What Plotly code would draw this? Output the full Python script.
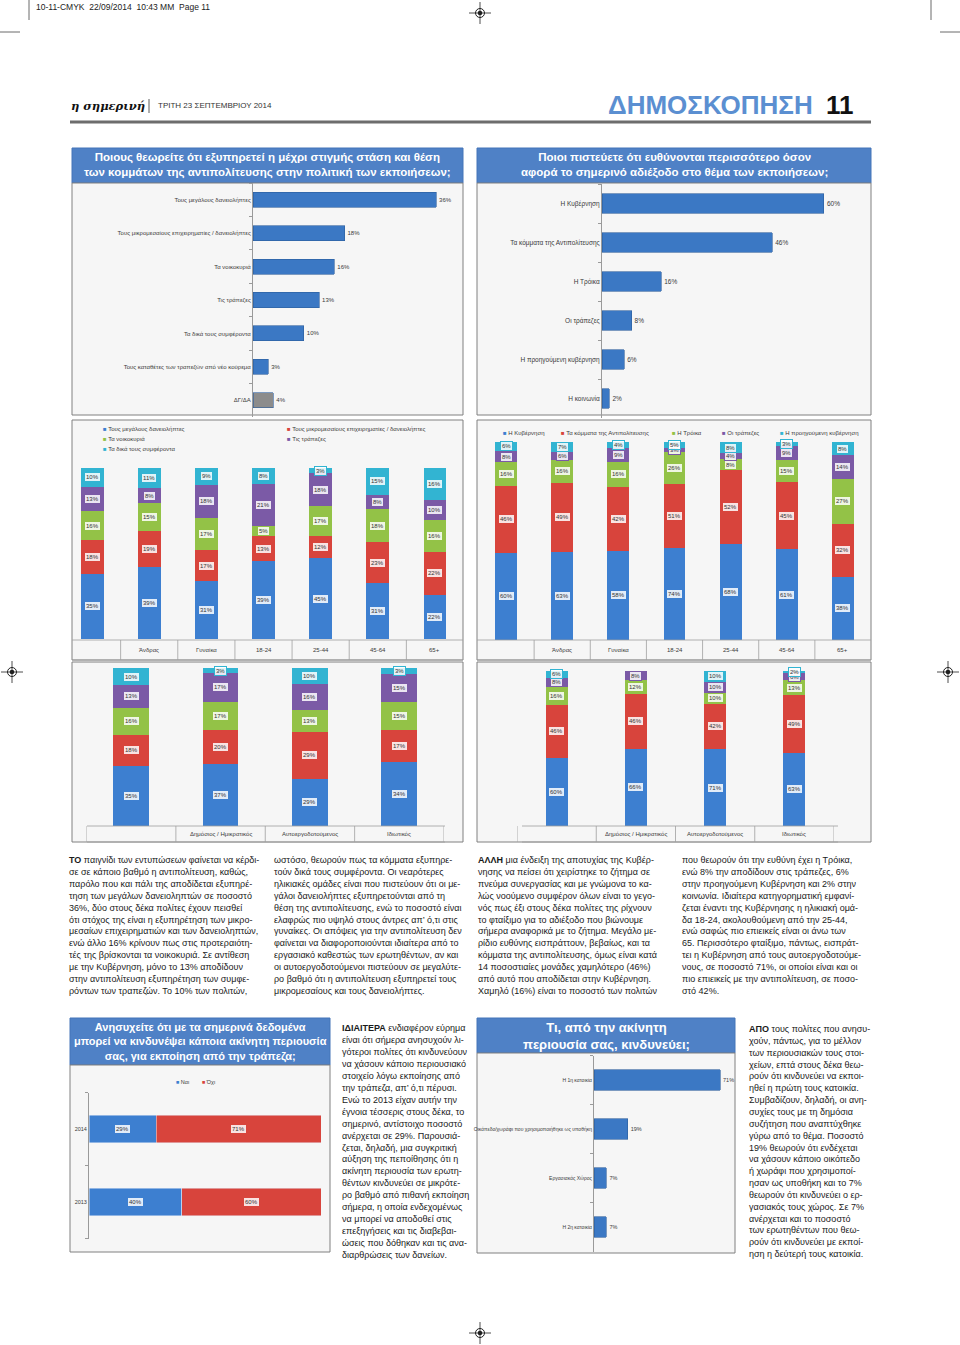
import plotly.graph_objects as go

W, H = 960, 1345
FONT = "Liberation Sans, Arial, sans-serif"

# ---------------- DATA ----------------
q1_categories = ["Τους μεγάλους δανειολήπτες",
                 "Τους μικρομεσαίους επιχειρηματίες / δανειολήπτες",
                 "Τα νοικοκυριά", "Τις τράπεζες", "Τα δικά τους συμφέροντα",
                 "Τους καταθέτες των τραπεζών από νέο κούρεμα", "ΔΓ/ΔΑ"]
q1_values = [36, 18, 16, 13, 10, 3, 4]

q2_categories = ["Η Κυβέρνηση", "Τα κόμματα της Αντιπολίτευσης", "Η Τρόικα",
                 "Οι τράπεζες", "Η προηγούμενη κυβέρνηση", "Η κοινωνία"]
q2_values = [60, 46, 16, 8, 6, 2]

demo_groups = ["Σύνολο", "Άνδρας", "Γυναίκα", "18-24", "25-44", "45-64", "65+"]
demo_labels = ["", "Άνδρας", "Γυναίκα", "18-24", "25-44", "45-64", "65+"]
work_groups = ["Σύνολο", "Δημόσιος / Ημικρατικός", "Αυτοεργοδοτούμενος", "Ιδιωτικός"]
work_labels = ["", "Δημόσιος / Ημικρατικός", "Αυτοεργοδοτούμενος", "Ιδιωτικός"]

q1_series = ["Τους μεγάλους δανειολήπτες", "Τους μικρομεσαίους επιχειρηματίες / δανειολήπτες",
             "Τα νοικοκυριά", "Τις τράπεζες", "Τα δικά τους συμφέροντα"]
q1_demo_big = [35, 39, 31, 39, 45, 31, 22]
q1_demo_small = [18, 19, 17, 13, 12, 23, 22]
q1_demo_house = [16, 15, 17, 5, 17, 18, 16]
q1_demo_banks = [13, 8, 18, 21, 18, 8, 10]
q1_demo_own = [10, 11, 9, 8, 3, 15, 16]

q1_work_big = [35, 37, 29, 34]
q1_work_small = [18, 20, 29, 17]
q1_work_house = [16, 17, 13, 15]
q1_work_banks = [13, 17, 16, 15]
q1_work_own = [10, 3, 10, 3]

q2_series = ["Η Κυβέρνηση", "Τα κόμματα της Αντιπολίτευσης", "Η Τρόικα",
             "Οι τράπεζες", "Η προηγούμενη κυβέρνηση"]
q2_demo_gov = [60, 63, 58, 74, 68, 61, 38]
q2_demo_opp = [46, 49, 42, 51, 52, 45, 32]
q2_demo_troika = [16, 16, 16, 26, 8, 15, 27]
q2_demo_banks = [8, 6, 9, 3, 4, 9, 14]
q2_demo_prev = [6, 7, 4, 5, 8, 3, 8]

q2_work_gov = [60, 66, 71, 63]
q2_work_opp = [46, 46, 42, 49]
q2_work_troika = [16, 12, 10, 13]
q2_work_banks = [8, 8, 10, 6]
q2_work_prev = [6, 0, 10, 2]

q3_years = [2014, 2013]
q3_series = ["Ναι", "Όχι"]
q3_yes = [29, 40]
q3_no = [71, 60]

q4_categories = ["Η 1η κατοικία", "Οικόπεδο/χωράφι που χρησιμοποιήθηκε ως υποθήκη",
                 "Εργασιακός Χώρος", "Η 2η κατοικία"]
q4_values = [71, 19, 7, 7]

# ---------------- STYLE ----------------
C_BLUE, C_RED, C_GREEN, C_PURPLE, C_TEAL = "#3d7fd0", "#d8443c", "#93c247", "#7b5aa6", "#32b4d2"
SERIES_COLORS = [C_BLUE, C_RED, C_GREEN, C_PURPLE, C_TEAL]
BAR_BLUE, BAR_EDGE, BAR_GRAY = "#3b78c4", "#2b5d9c", "#8c8c8c"
TITLE_BG = "#4f81c6"
PANEL_BG = "#f6f6f6"


def X(p):
    return p / W


def Y(p):
    return 1 - p / H


fig = go.Figure()
shapes, ann, lay = [], [], {}


def rect(x0, y0, x1, y1, fill, line=None, lw=1, layer="below"):
    shapes.append(dict(type="rect", xref="paper", yref="paper", x0=X(x0), x1=X(x1),
                       y0=Y(y1), y1=Y(y0), fillcolor=fill, layer=layer,
                       line=dict(color=line or fill, width=lw if line else 0)))


def seg(x0, y0, x1, y1, color, w=1):
    shapes.append(dict(type="line", xref="paper", yref="paper", x0=X(x0), x1=X(x1),
                       y0=Y(y0), y1=Y(y1), line=dict(color=color, width=w)))


def text(x, y, s, size, color="#222", xanchor="left", yanchor="middle", align="left", family=FONT):
    ann.append(dict(xref="paper", yref="paper", x=X(x), y=Y(y), text=s, showarrow=False,
                    xanchor=xanchor, yanchor=yanchor, align=align,
                    font=dict(size=size, color=color, family=family)))


def axes(n, x0, x1, y0, y1, xkw, ykw):
    s = "" if n == 1 else str(n)
    lay["xaxis" + s] = dict(domain=[X(x0), X(x1)], anchor="y" + s, fixedrange=True, **xkw)
    lay["yaxis" + s] = dict(domain=[Y(y1), Y(y0)], anchor="x" + s, fixedrange=True, **ykw)
    return "x" + s, "y" + s


def ycat(cats, fs):
    return dict(type="category", categoryorder="array", categoryarray=cats, autorange="reversed",
                showline=True, linecolor="#9a9a9a", linewidth=1, ticks="outside", ticklen=3,
                tickcolor="#9a9a9a", tickson="boundaries", tickfont=dict(size=fs, color="#3a3a3a"),
                showgrid=False, zeroline=False)


def regmark(cx, cy):
    shapes.append(dict(type="circle", xref="paper", yref="paper", x0=X(cx - 4.5), x1=X(cx + 4.5),
                       y0=Y(cy + 4.5), y1=Y(cy - 4.5), line=dict(color="#222", width=1)))
    shapes.append(dict(type="circle", xref="paper", yref="paper", x0=X(cx - 2.3), x1=X(cx + 2.3),
                       y0=Y(cy + 2.3), y1=Y(cy - 2.3), fillcolor="#222", line=dict(width=0)))
    seg(cx - 11, cy, cx + 11, cy, "#222", 0.8)
    seg(cx, cy - 11, cx, cy + 11, "#222", 0.8)


# ---------------- PAGE HEADER ----------------
text(34, 7, "10-11-CMYK  22/09/2014  10:43 MM  Page 11", 8.5, "#222")
seg(29, 0, 29, 20, "#444", 0.8)
seg(0, 32, 20, 32, "#444", 0.8)
seg(931, 0, 931, 20, "#444", 0.8)
seg(940, 32, 960, 32, "#444", 0.8)
regmark(480, 13)
regmark(12, 672)
regmark(948, 672)
regmark(480, 1333)

text(69, 106, "<b><i>η σημερινή</i></b>", 11.5, "#111", family="DejaVu Serif, serif")
seg(149, 99, 149, 113, "#333", 0.8)
text(156, 106, "ΤΡΙΤΗ 23 ΣΕΠΤΕΜΒΡΙΟΥ 2014", 8, "#333")
text(815, 105, "<b>ΔΗΜΟΣΚΟΠΗΣΗ</b>", 26, "#5b8fd1", xanchor="right")
text(824, 105, "<b>11</b>", 26, "#111")
seg(70, 122, 871, 122, "#6d6d6d", 3)


# ---------------- PANELS & TITLES ----------------
def title_box(x0, y0, x1, y1, s, size):
    rect(x0, y0, x1, y1, TITLE_BG, "#4474b8", 1)
    text((x0 + x1) / 2, (y0 + y1) / 2, "<b>" + s + "</b>", size, "white",
         xanchor="center", align="center")


title_box(72, 148, 463, 183, "Ποιους θεωρείτε ότι εξυπηρετεί η μέχρι στιγμής στάση και θέση<br>"
          "των κομμάτων της αντιπολίτευσης στην πολιτική των εκποιήσεων;", 11.5)
title_box(477, 148, 871, 183, "Ποιοι πιστεύετε ότι ευθύνονται περισσότερο όσον<br>"
          "αφορά το σημερινό αδιέξοδο στο θέμα των εκποιήσεων;", 11.5)
title_box(70, 1018, 330, 1065, "Ανησυχείτε ότι με τα σημερινά δεδομένα<br>"
          "μπορεί να κινδυνέψει κάποια ακίνητη περιουσία<br>σας, για εκποίηση από την τράπεζα;", 11)
title_box(477, 1018, 735, 1053, "Τι, από την ακίνητη<br>περιουσία σας, κινδυνεύει;", 13)

rect(72, 183, 463, 415, PANEL_BG, "#808080", 1)
rect(477, 183, 871, 415, PANEL_BG, "#808080", 1)
rect(72, 420, 463, 660, PANEL_BG, "#808080", 1)
rect(477, 420, 871, 660, PANEL_BG, "#808080", 1)
rect(72, 662, 463, 842, PANEL_BG, "#808080", 1)
rect(477, 662, 871, 842, PANEL_BG, "#808080", 1)
rect(70, 1065, 330, 1252, PANEL_BG, "#808080", 1)
rect(477, 1053, 735, 1253, PANEL_BG, "#808080", 1)

# ---------------- CHART 1 & 2: horizontal bars ----------------
xa, ya = axes(1, 253, 463, 183, 417, dict(visible=False, range=[0, 41.3]), ycat(q1_categories, 6))
fig.add_trace(go.Bar(y=q1_categories, x=q1_values, orientation="h", width=0.45,
                     marker=dict(color=[BAR_GRAY if c == "ΔΓ/ΔΑ" else BAR_BLUE for c in q1_categories],
                                 line=dict(color=BAR_EDGE, width=0.6)),
                     text=[f"{v}%" for v in q1_values], textposition="outside", constraintext="none",
                     textfont=dict(size=6, color="#3a3a3a"), cliponaxis=False,
                     xaxis=xa, yaxis=ya, showlegend=False, hoverinfo="skip"))

xa, ya = axes(2, 602, 868, 184, 418, dict(visible=False, range=[0, 71.9]), ycat(q2_categories, 6.5))
fig.add_trace(go.Bar(y=q2_categories, x=q2_values, orientation="h", width=0.5,
                     marker=dict(color=BAR_BLUE, line=dict(color=BAR_EDGE, width=0.6)),
                     text=[f"{v}%" for v in q2_values], textposition="outside", constraintext="none",
                     textfont=dict(size=6.5, color="#3a3a3a"), cliponaxis=False,
                     xaxis=xa, yaxis=ya, showlegend=False, hoverinfo="skip"))


# ---------------- STACKED 100% CHARTS ----------------
def stacked(n, x0, x1, y0, y1, groups, series_vals, width, fs=6):
    xa, ya = axes(n, x0, x1, y0, y1,
                  dict(visible=False, type="category", categoryorder="array",
                       categoryarray=groups, range=[-0.5, len(groups) - 0.5]),
                  dict(visible=False, range=[0, 100]))
    totals = [sum(s[j] for s in series_vals) for j in range(len(groups))]
    cum = [0.0] * len(groups)
    for vals, col in zip(series_vals, SERIES_COLORS):
        shares = [v / t * 100 for v, t in zip(vals, totals)]
        fig.add_trace(go.Bar(x=groups, y=shares, width=width, marker=dict(color=col, line=dict(width=0)),
                             xaxis=xa, yaxis=ya, showlegend=False, hoverinfo="skip"))
        for j, (g, v, sh) in enumerate(zip(groups, vals, shares)):
            if v > 0:
                ann.append(dict(xref=xa, yref=ya, x=g, y=cum[j] + sh / 2, text=f"{v}%", showarrow=False,
                                font=dict(size=fs, color="#333", family=FONT),
                                bgcolor="rgba(255,255,255,0.85)", bordercolor=col,
                                borderwidth=1, borderpad=1))
            cum[j] += sh
    return xa


def table_row(xa, groups, labels, xl, xr, yt, yb, outer):
    seg(xl, yt, xr, yt, "#a0a0a0", 0.8)
    seg(xl, yb, xr, yb, "#a0a0a0", 0.8)
    n = len(groups)
    rng = range(-1, n) if outer else range(0, n - 1)
    for i in rng:
        shapes.append(dict(type="line", xref=xa, yref="paper", x0=i + 0.5, x1=i + 0.5,
                           y0=Y(yt), y1=Y(yb), line=dict(color="#a0a0a0", width=0.8)))
    for g, lab in zip(groups, labels):
        ann.append(dict(xref=xa, yref="paper", x=g, y=Y((yt + yb) / 2), text=lab, showarrow=False,
                        font=dict(size=6, color="#3a3a3a", family=FONT)))


q1_demo_series = [q1_demo_big, q1_demo_small, q1_demo_house, q1_demo_banks, q1_demo_own]
q2_demo_series = [q2_demo_gov, q2_demo_opp, q2_demo_troika, q2_demo_banks, q2_demo_prev]
q1_work_series = [q1_work_big, q1_work_small, q1_work_house, q1_work_banks, q1_work_own]
q2_work_series = [q2_work_gov, q2_work_opp, q2_work_troika, q2_work_banks, q2_work_prev]

xa3 = stacked(3, 63.5, 463.5, 468, 639, demo_groups, q1_demo_series, 0.4)
table_row(xa3, demo_groups, demo_labels, 72, 463, 640, 660, False)
xa4 = stacked(4, 478, 871, 442, 640, demo_groups, q2_demo_series, 0.39)
table_row(xa4, demo_groups, demo_labels, 477, 871, 640, 660, False)
xa5 = stacked(5, 86.5, 444, 668, 826, work_groups, q1_work_series, 0.4)
table_row(xa5, work_groups, work_labels, 87, 445, 826, 842, True)
xa6 = stacked(6, 517, 834, 671, 826, work_groups, q2_work_series, 0.28)
table_row(xa6, work_groups, work_labels, 522, 838, 826, 842, True)


def legend_item(x, y, col, lab, fs=6):
    text(x, y, f"<span style='color:{col}'>■</span> {lab}", fs, "#3a3a3a")


legend_item(101, 429, C_BLUE, q1_series[0])
legend_item(101, 439, C_GREEN, q1_series[2])
legend_item(101, 449, C_TEAL, q1_series[4])
legend_item(285, 429, C_RED, q1_series[1])
legend_item(285, 439, C_PURPLE, q1_series[3])
for xx, col, lab in zip([501, 559, 670, 720, 778], SERIES_COLORS, q2_series):
    legend_item(xx, 433, col, lab)

# ---------------- CHART 7: 2014 vs 2013 ----------------
xa, ya = axes(7, 89, 321, 1092.5, 1238.5, dict(visible=False, range=[0, 100]),
              dict(type="linear", range=[min(q3_years) - 0.5, max(q3_years) + 0.5],
                   tickmode="array", tickvals=q3_years, ticktext=[str(y) for y in q3_years],
                   ticks="", showline=True, linecolor="#9a9a9a", linewidth=1,
                   tickfont=dict(size=5.5, color="#3a3a3a"), showgrid=False, zeroline=False,
                   minor=dict(tick0=0.5, dtick=1, ticks="outside", ticklen=3, tickcolor="#9a9a9a",
                              showgrid=False)))
q3_tot = [a + b for a, b in zip(q3_yes, q3_no)]
cum = [0.0, 0.0]
for vals, col in zip([q3_yes, q3_no], [C_BLUE, C_RED]):
    shares = [v / t * 100 for v, t in zip(vals, q3_tot)]
    fig.add_trace(go.Bar(y=q3_years, x=shares, orientation="h", width=0.38, marker=dict(color=col),
                         xaxis=xa, yaxis=ya, showlegend=False, hoverinfo="skip"))
    for j, (yr, v, sh) in enumerate(zip(q3_years, vals, shares)):
        ann.append(dict(xref=xa, yref=ya, x=cum[j] + sh / 2, y=yr, text=f"{v}%", showarrow=False,
                        font=dict(size=6, color="#333", family=FONT), bgcolor="rgba(255,255,255,0.85)",
                        bordercolor=col, borderwidth=1, borderpad=1))
        cum[j] += sh
legend_item(174, 1082, C_BLUE, q3_series[0], 5.5)
legend_item(200, 1082, C_RED, q3_series[1], 5.5)

# ---------------- CHART 8 ----------------
xa, ya = axes(8, 594, 733, 1055.5, 1251.5, dict(visible=False, range=[0, 78.3]), ycat(q4_categories, 5))
fig.add_trace(go.Bar(y=q4_categories, x=q4_values, orientation="h", width=0.41,
                     marker=dict(color=BAR_BLUE, line=dict(color=BAR_EDGE, width=0.6)),
                     text=[f"{v}%" for v in q4_values], textposition="outside", constraintext="none",
                     textfont=dict(size=5.5, color="#3a3a3a"), cliponaxis=False,
                     xaxis=xa, yaxis=ya, showlegend=False, hoverinfo="skip"))

# ---------------- BODY TEXT ----------------
col_a = ["<b>ΤΟ</b> παιγνίδι των εντυπώσεων φαίνεται να κέρδι-",
         "σε σε κάποιο βαθμό η αντιπολίτευση, καθώς,",
         "παρόλο που και πάλι της αποδίδεται εξυπηρέ-",
         "τηση των μεγάλων δανειοληπτών σε ποσοστό",
         "36%, δύο στους δέκα πολίτες έχουν πεισθεί",
         "ότι στόχος της είναι η εξυπηρέτηση των μικρο-",
         "μεσαίων επιχειρηματιών και των δανειοληπτών,",
         "ενώ άλλο 16% κρίνουν πως στις προτεραιότη-",
         "τές της βρίσκονται τα νοικοκυριά. Σε αντίθεση",
         "με την Κυβέρνηση, μόνο το 13% αποδίδουν",
         "στην αντιπολίτευση εξυπηρέτηση των συμφε-",
         "ρόντων των τραπεζών. Το 10% των πολιτών,"]
col_b = ["ωστόσο, θεωρούν πως τα κόμματα εξυπηρε-",
         "τούν δικά τους συμφέροντα. Οι νεαρότερες",
         "ηλικιακές ομάδες είναι που πιστεύουν ότι οι με-",
         "γάλοι δανειολήπτες εξυπηρετούνται από τη",
         "θέση της αντιπολίτευσης, ενώ το ποσοστό είναι",
         "ελαφρώς πιο υψηλό στους άντρες απ’ ό,τι στις",
         "γυναίκες. Οι απόψεις για την αντιπολίτευση δεν",
         "φαίνεται να διαφοροποιούνται ιδιαίτερα από το",
         "εργασιακό καθεστώς των ερωτηθέντων, αν και",
         "οι αυτοεργοδοτούμενοι πιστεύουν σε μεγαλύτε-",
         "ρο βαθμό ότι η αντιπολίτευση εξυπηρετεί τους",
         "μικρομεσαίους και τους δανειολήπτες."]
col_c = ["<b>ΑΛΛΗ</b> μια ένδειξη της αποτυχίας της Κυβέρ-",
         "νησης να πείσει ότι χειρίστηκε το ζήτημα σε",
         "πνεύμα συνεργασίας και με γνώμονα το κα-",
         "λώς νοούμενο συμφέρον όλων είναι το γεγο-",
         "νός πως έξι στους δέκα πολίτες της ρίχνουν",
         "το φταίξιμο για το αδιέξοδο που βιώνουμε",
         "σήμερα αναφορικά με το ζήτημα. Μεγάλο με-",
         "ρίδιο ευθύνης εισπράττουν, βεβαίως, και τα",
         "κόμματα της αντιπολίτευσης, όμως είναι κατά",
         "14 ποσοστιαίες μονάδες χαμηλότερο (46%)",
         "από αυτό που αποδίδεται στην Κυβέρνηση.",
         "Χαμηλό (16%) είναι το ποσοστό των πολιτών"]
col_d = ["που θεωρούν ότι την ευθύνη έχει η Τρόικα,",
         "ενώ 8% την αποδίδουν στις τράπεζες, 6%",
         "στην προηγούμενη Κυβέρνηση και 2% στην",
         "κοινωνία. Ιδιαίτερα κατηγορηματική εμφανί-",
         "ζεται έναντι της Κυβέρνησης η ηλικιακή ομά-",
         "δα 18-24, ακολουθούμενη από την 25-44,",
         "ενώ σαφώς πιο επιεικείς είναι οι άνω των",
         "65. Περισσότερο φταίξιμο, πάντως, εισπράτ-",
         "τει η Κυβέρνηση από τους αυτοεργοδοτούμε-",
         "νους, σε ποσοστό 71%, οι οποίοι είναι και οι",
         "πιο επιεικείς με την αντιπολίτευση, σε ποσο-",
         "στό 42%."]
col_e = ["<b>ΙΔΙΑΙΤΕΡΑ</b> ενδιαφέρον εύρημα",
         "είναι ότι σήμερα ανησυχούν λι-",
         "γότεροι πολίτες ότι κινδυνεύουν",
         "να χάσουν κάποιο περιουσιακό",
         "στοιχείο λόγω εκποίησης από",
         "την τράπεζα, απ’ ό,τι πέρυσι.",
         "Ενώ το 2013 είχαν αυτήν την",
         "έγνοια τέσσερις στους δέκα, το",
         "σημερινό, αντίστοιχο ποσοστό",
         "ανέρχεται σε 29%. Παρουσιά-",
         "ζεται, δηλαδή, μια συγκριτική",
         "αύξηση της πεποίθησης ότι η",
         "ακίνητη περιουσία των ερωτη-",
         "θέντων κινδυνεύει σε μικρότε-",
         "ρο βαθμό από πιθανή εκποίηση",
         "σήμερα, η οποία ενδεχομένως",
         "να μπορεί να αποδοθεί στις",
         "επεξηγήσεις και τις διαβεβαι-",
         "ώσεις που δόθηκαν και τις ανα-",
         "διαρθρώσεις των δανείων."]
col_f = ["<b>ΑΠΟ</b> τους πολίτες που ανησυ-",
         "χούν, πάντως, για το μέλλον",
         "των περιουσιακών τους στοι-",
         "χείων, επτά στους δέκα θεω-",
         "ρούν ότι κινδυνεύει να εκποι-",
         "ηθεί η πρώτη τους κατοικία.",
         "Συμβαδίζουν, δηλαδή, οι ανη-",
         "συχίες τους με τη δημόσια",
         "συζήτηση που αναπτύχθηκε",
         "γύρω από το θέμα. Ποσοστό",
         "19% θεωρούν ότι ενδέχεται",
         "να χάσουν κάποιο οικόπεδο",
         "ή χωράφι που χρησιμοποί-",
         "ησαν ως υποθήκη και το 7%",
         "θεωρούν ότι κινδυνεύει ο ερ-",
         "γασιακός τους χώρος. Σε 7%",
         "ανέρχεται και το ποσοστό",
         "των ερωτηθέντων που θεω-",
         "ρούν ότι κινδυνεύει με εκποί-",
         "ηση η δεύτερή τους κατοικία."]


def column(lines, x, y_first, step, size):
    for i, ln in enumerate(lines):
        text(x, y_first + i * step, ln, size, "#1a1a1a")


column(col_a, 67, 860, 11.9, 9)
column(col_b, 272, 860, 11.9, 9)
column(col_c, 476, 860, 11.9, 9)
column(col_d, 680, 860, 11.9, 9)
column(col_e, 340, 1028, 11.95, 9)
column(col_f, 747, 1029, 11.85, 9)

fig.update_layout(width=W, height=H, margin=dict(l=0, r=0, t=0, b=0),
                  paper_bgcolor="white", plot_bgcolor="rgba(0,0,0,0)",
                  font=dict(family=FONT, color="#222"), barmode="stack",
                  shapes=shapes, annotations=ann, **lay)
fig.write_html("out.html", config={"displayModeBar": False},
               post_script="document.body.style.margin='0px';")
